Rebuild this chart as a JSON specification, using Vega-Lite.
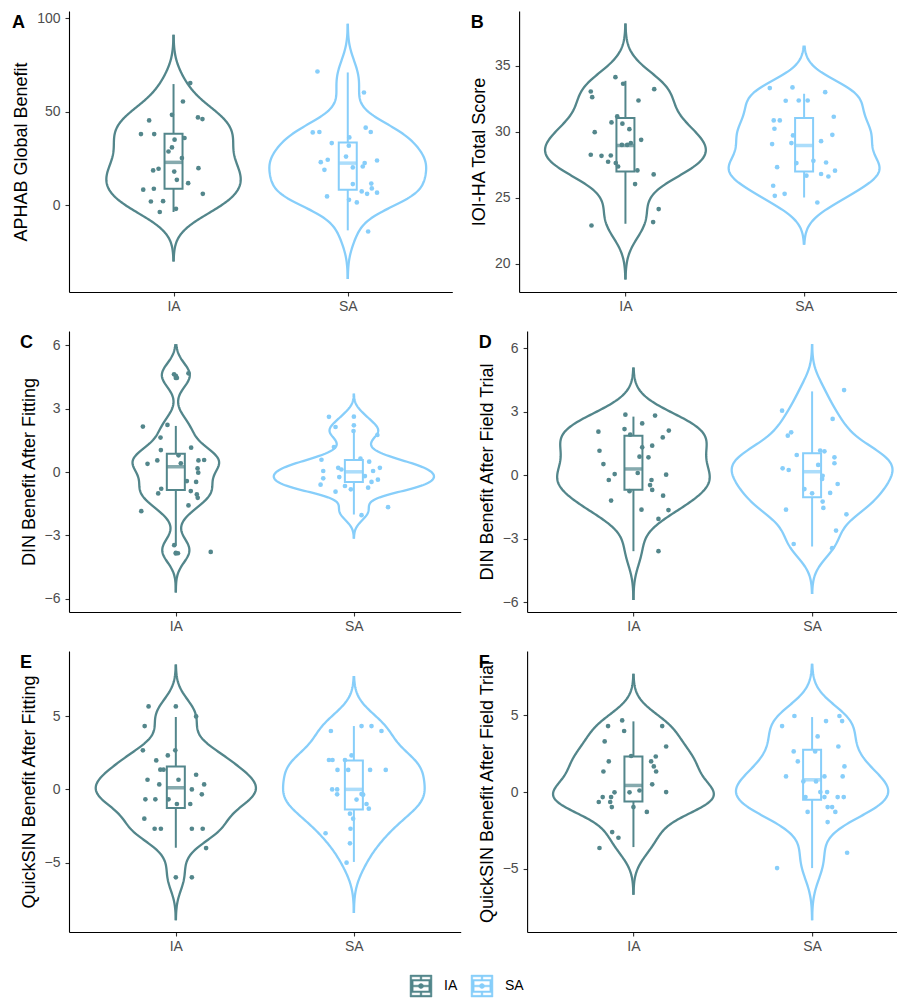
{
"$schema": "https://vega.github.io/schema/vega-lite/v6.json",
"padding": {"left": 12, "top": 11, "right": 0, "bottom": 0},
"background": "white",
"config": {
 "font": "Liberation Sans",
 "view": {"stroke": null},
 "axis": {"grid": false, "domainColor": "#000000", "domainWidth": 1.1, "tickColor": "#333333", "tickWidth": 1.1, "tickSize": 4, "labelFontSize": 14, "labelColor": "#4D4D4D", "labelPadding": 5, "titleFontSize": 18, "titleFontWeight": "normal", "titleColor": "#000000", "titlePadding": 6, "titleLimit": 1000},
 "axisX": {"labelAngle": 0, "labelPadding": 3},
 "title": {"fontSize": 18, "fontWeight": "bold", "anchor": "start", "offset": -21, "color": "#000000"},
 "legend": {"labelFontSize": 14, "labelColor": "#000000"}
},
"datasets": {
 "pA": [
  {"g":"IA","v":65.3,"j":0.096},{"g":"IA","v":55.5,"j":0.054},{"g":"IA","v":48.4,"j":-0.009},{"g":"IA","v":45.4,"j":-0.14},{"g":"IA","v":47.0,"j":0.14},{"g":"IA","v":46.1,"j":0.166},{"g":"IA","v":38.1,"j":-0.187},{"g":"IA","v":38.1,"j":-0.111},{"g":"IA","v":36.0,"j":0.063},{"g":"IA","v":35.1,"j":0.006},{"g":"IA","v":31.0,"j":-0.009},{"g":"IA","v":28.8,"j":-0.029},{"g":"IA","v":25.3,"j":0.048},{"g":"IA","v":19.9,"j":0.143},{"g":"IA","v":18.7,"j":-0.117},{"g":"IA","v":19.6,"j":-0.086},{"g":"IA","v":18.1,"j":0.004},{"g":"IA","v":13.7,"j":0.019},{"g":"IA","v":11.9,"j":0.084},{"g":"IA","v":8.4,"j":-0.174},{"g":"IA","v":8.9,"j":-0.113},{"g":"IA","v":6.2,"j":0.168},{"g":"IA","v":2.1,"j":-0.13},{"g":"IA","v":2.3,"j":-0.06},{"g":"IA","v":-3.5,"j":-0.079},{"g":"IA","v":-1.8,"j":0.014},
  {"g":"SA","v":71.5,"j":-0.174},{"g":"SA","v":60.3,"j":0.093},{"g":"SA","v":39.0,"j":-0.201},{"g":"SA","v":39.2,"j":-0.163},{"g":"SA","v":41.5,"j":0.103},{"g":"SA","v":39.2,"j":0.132},{"g":"SA","v":36.3,"j":0.009},{"g":"SA","v":33.3,"j":-0.092},{"g":"SA","v":31.9,"j":0.006},{"g":"SA","v":26.1,"j":-0.01},{"g":"SA","v":23.1,"j":-0.155},{"g":"SA","v":24.4,"j":-0.115},{"g":"SA","v":24.0,"j":0.168},{"g":"SA","v":19.0,"j":-0.134},{"g":"SA","v":20.3,"j":0.029},{"g":"SA","v":20.8,"j":0.086},{"g":"SA","v":22.6,"j":0.097},{"g":"SA","v":11.4,"j":0.029},{"g":"SA","v":11.7,"j":0.135},{"g":"SA","v":9.1,"j":0.138},{"g":"SA","v":7.5,"j":0.08},{"g":"SA","v":6.2,"j":0.111},{"g":"SA","v":6.8,"j":0.168},{"g":"SA","v":4.8,"j":-0.119},{"g":"SA","v":3.0,"j":0.007},{"g":"SA","v":1.6,"j":0.052},{"g":"SA","v":-13.9,"j":0.117}
 ],
 "bA": [{"g":"IA","lo":-3.5,"q1":8.9,"md":23.0,"q3":38.3,"hi":64.8},{"g":"SA","lo":-13.3,"q1":8.4,"md":22.6,"q3":33.6,"hi":71.0}],
 "pB": [
  {"g":"IA","v":34.14,"j":-0.056},{"g":"IA","v":33.64,"j":-0.013},{"g":"IA","v":33.05,"j":-0.194},{"g":"IA","v":32.62,"j":-0.186},{"g":"IA","v":33.23,"j":0.161},{"g":"IA","v":32.37,"j":0.073},{"g":"IA","v":31.16,"j":-0.046},{"g":"IA","v":30.71,"j":-0.078},{"g":"IA","v":30.61,"j":-0.017},{"g":"IA","v":30.2,"j":0.022},{"g":"IA","v":29.97,"j":-0.172},{"g":"IA","v":29.39,"j":0.088},{"g":"IA","v":29.14,"j":0.03},{"g":"IA","v":29.0,"j":-0.02},{"g":"IA","v":29.0,"j":0.01},{"g":"IA","v":28.26,"j":-0.194},{"g":"IA","v":28.18,"j":-0.134},{"g":"IA","v":28.2,"j":-0.082},{"g":"IA","v":27.73,"j":-0.097},{"g":"IA","v":27.63,"j":-0.054},{"g":"IA","v":27.37,"j":-0.041},{"g":"IA","v":27.07,"j":0.067},{"g":"IA","v":26.77,"j":0.158},{"g":"IA","v":26.04,"j":0.054},{"g":"IA","v":24.14,"j":0.186},{"g":"IA","v":23.16,"j":0.155},{"g":"IA","v":22.9,"j":-0.19},
  {"g":"SA","v":33.31,"j":-0.192},{"g":"SA","v":33.36,"j":-0.065},{"g":"SA","v":33.0,"j":0.118},{"g":"SA","v":32.35,"j":-0.103},{"g":"SA","v":32.37,"j":-0.03},{"g":"SA","v":32.37,"j":0.02},{"g":"SA","v":30.86,"j":-0.17},{"g":"SA","v":30.86,"j":-0.136},{"g":"SA","v":31.14,"j":0.166},{"g":"SA","v":30.23,"j":-0.166},{"g":"SA","v":29.72,"j":-0.062},{"g":"SA","v":29.77,"j":0.158},{"g":"SA","v":29.07,"j":-0.179},{"g":"SA","v":29.14,"j":-0.071},{"g":"SA","v":29.29,"j":0.095},{"g":"SA","v":27.32,"j":-0.151},{"g":"SA","v":27.63,"j":-0.043},{"g":"SA","v":27.8,"j":0.052},{"g":"SA","v":27.67,"j":0.123},{"g":"SA","v":26.67,"j":0.013},{"g":"SA","v":26.8,"j":0.095},{"g":"SA","v":26.61,"j":0.136},{"g":"SA","v":27.05,"j":0.173},{"g":"SA","v":25.91,"j":-0.173},{"g":"SA","v":25.15,"j":-0.164},{"g":"SA","v":25.3,"j":-0.109},{"g":"SA","v":24.64,"j":0.074}
 ],
 "bB": [{"g":"IA","lo":23.03,"q1":26.99,"md":28.96,"q3":31.04,"hi":33.86},{"g":"SA","lo":25.02,"q1":26.99,"md":28.96,"q3":31.04,"hi":32.88}],
 "pC": [
  {"g":"IA","v":4.67,"j":0.071},{"g":"IA","v":4.62,"j":-0.01},{"g":"IA","v":4.45,"j":0.006},{"g":"IA","v":2.15,"j":-0.185},{"g":"IA","v":2.23,"j":-0.047},{"g":"IA","v":1.63,"j":-0.086},{"g":"IA","v":1.04,"j":-0.084},{"g":"IA","v":1.15,"j":0.086},{"g":"IA","v":0.39,"j":-0.159},{"g":"IA","v":0.55,"j":-0.104},{"g":"IA","v":0.79,"j":0.015},{"g":"IA","v":0.41,"j":0.028},{"g":"IA","v":0.55,"j":0.127},{"g":"IA","v":0.57,"j":0.159},{"g":"IA","v":0.17,"j":0.122},{"g":"IA","v":-0.03,"j":0.126},{"g":"IA","v":-0.43,"j":0.062},{"g":"IA","v":-0.47,"j":0.114},{"g":"IA","v":-0.79,"j":-0.082},{"g":"IA","v":-1.01,"j":-0.099},{"g":"IA","v":-0.9,"j":0.084},{"g":"IA","v":-1.06,"j":0.118},{"g":"IA","v":-1.22,"j":0.123},{"g":"IA","v":-1.58,"j":0.071},{"g":"IA","v":-1.85,"j":-0.194},{"g":"IA","v":-3.46,"j":-0.009},{"g":"IA","v":-3.84,"j":0.012},{"g":"IA","v":-3.78,"j":0.196},
  {"g":"SA","v":2.61,"j":-0.14},{"g":"SA","v":2.13,"j":-0.103},{"g":"SA","v":1.94,"j":-0.002},{"g":"SA","v":1.75,"j":0.132},{"g":"SA","v":1.18,"j":-0.112},{"g":"SA","v":0.58,"j":-0.182},{"g":"SA","v":0.63,"j":0.037},{"g":"SA","v":0.49,"j":0.086},{"g":"SA","v":0.05,"j":-0.172},{"g":"SA","v":0.2,"j":-0.088},{"g":"SA","v":0.12,"j":-0.07},{"g":"SA","v":0.05,"j":0.108},{"g":"SA","v":0.2,"j":0.146},{"g":"SA","v":-0.24,"j":-0.082},{"g":"SA","v":-0.19,"j":0.062},{"g":"SA","v":-0.3,"j":-0.172},{"g":"SA","v":-0.36,"j":0.135},{"g":"SA","v":-0.47,"j":0.099},{"g":"SA","v":-0.6,"j":-0.187},{"g":"SA","v":-0.66,"j":-0.05},{"g":"SA","v":-0.74,"j":0.08},{"g":"SA","v":-0.82,"j":-0.017},{"g":"SA","v":-0.93,"j":-0.103},{"g":"SA","v":-1.66,"j":0.192},{"g":"SA","v":-2.04,"j":0.043}
 ],
 "bC": [{"g":"IA","lo":-3.48,"q1":-0.85,"md":0.25,"q3":0.87,"hi":2.18},{"g":"SA","lo":-2.01,"q1":-0.47,"md":0.01,"q3":0.57,"hi":1.94}],
 "oC": [{"g":"IA","v":4.55},{"g":"IA","v":4.45},{"g":"IA","v":-3.82},{"g":"IA","v":-3.85},{"g":"SA","v":2.62},{"g":"SA","v":2.21}],
 "pD": [
  {"g":"IA","v":2.86,"j":-0.045},{"g":"IA","v":2.82,"j":0.121},{"g":"IA","v":2.45,"j":0.049},{"g":"IA","v":2.18,"j":-0.05},{"g":"IA","v":2.06,"j":-0.196},{"g":"IA","v":2.11,"j":0.198},{"g":"IA","v":1.92,"j":-0.018},{"g":"IA","v":1.79,"j":0.164},{"g":"IA","v":1.4,"j":0.105},{"g":"IA","v":1.32,"j":0.049},{"g":"IA","v":1.16,"j":-0.19},{"g":"IA","v":0.88,"j":0.034},{"g":"IA","v":0.85,"j":0.084},{"g":"IA","v":0.53,"j":-0.168},{"g":"IA","v":0.06,"j":-0.105},{"g":"IA","v":0.11,"j":0.024},{"g":"IA","v":0.03,"j":0.183},{"g":"IA","v":-0.22,"j":-0.138},{"g":"IA","v":-0.22,"j":0.101},{"g":"IA","v":-0.46,"j":0.093},{"g":"IA","v":-0.69,"j":0.105},{"g":"IA","v":-0.75,"j":-0.022},{"g":"IA","v":-0.96,"j":0.166},{"g":"IA","v":-1.19,"j":-0.125},{"g":"IA","v":-1.62,"j":0.045},{"g":"IA","v":-1.64,"j":0.196},{"g":"IA","v":-2.06,"j":0.14},{"g":"IA","v":-3.58,"j":0.14},
  {"g":"SA","v":4.02,"j":0.179},{"g":"SA","v":3.05,"j":-0.168},{"g":"SA","v":2.66,"j":0.115},{"g":"SA","v":2.03,"j":-0.117},{"g":"SA","v":1.87,"j":-0.136},{"g":"SA","v":0.96,"j":-0.086},{"g":"SA","v":1.17,"j":0.045},{"g":"SA","v":1.13,"j":0.069},{"g":"SA","v":0.85,"j":0.125},{"g":"SA","v":0.57,"j":0.125},{"g":"SA","v":0.49,"j":0.034},{"g":"SA","v":0.33,"j":-0.165},{"g":"SA","v":0.25,"j":-0.131},{"g":"SA","v":-0.02,"j":0.059},{"g":"SA","v":-0.17,"j":0.056},{"g":"SA","v":-0.41,"j":0.143},{"g":"SA","v":-0.65,"j":-0.043},{"g":"SA","v":-0.85,"j":0.0},{"g":"SA","v":-0.83,"j":0.101},{"g":"SA","v":-1.24,"j":0.059},{"g":"SA","v":-1.54,"j":0.063},{"g":"SA","v":-1.62,"j":-0.146},{"g":"SA","v":-1.84,"j":0.192},{"g":"SA","v":-2.61,"j":0.134},{"g":"SA","v":-3.24,"j":-0.103},{"g":"SA","v":-3.44,"j":0.112}
 ],
 "bD": [{"g":"IA","lo":-3.58,"q1":-0.68,"md":0.3,"q3":1.87,"hi":2.77},{"g":"SA","lo":-3.36,"q1":-1.04,"md":0.17,"q3":1.04,"hi":3.96}],
 "pE": [
  {"g":"IA","v":5.67,"j":-0.153},{"g":"IA","v":4.99,"j":0.114},{"g":"IA","v":4.33,"j":-0.175},{"g":"IA","v":2.67,"j":-0.185},{"g":"IA","v":2.67,"j":-0.003},{"g":"IA","v":1.98,"j":-0.11},{"g":"IA","v":2.32,"j":-0.045},{"g":"IA","v":1.35,"j":-0.087},{"g":"IA","v":1.35,"j":-0.069},{"g":"IA","v":1.0,"j":0.114},{"g":"IA","v":0.66,"j":-0.159},{"g":"IA","v":0.66,"j":0.015},{"g":"IA","v":0.34,"j":-0.093},{"g":"IA","v":0.34,"j":0.159},{"g":"IA","v":0.0,"j":0.09},{"g":"IA","v":-0.34,"j":0.146},{"g":"IA","v":-0.68,"j":-0.171},{"g":"IA","v":-0.68,"j":-0.115},{"g":"IA","v":-0.68,"j":-0.041},{"g":"IA","v":-1.0,"j":0.006},{"g":"IA","v":-1.0,"j":0.081},{"g":"IA","v":-2.0,"j":-0.177},{"g":"IA","v":-2.69,"j":-0.119},{"g":"IA","v":-2.69,"j":-0.084},{"g":"IA","v":-2.69,"j":0.09},{"g":"IA","v":-2.69,"j":0.151},{"g":"IA","v":-4.01,"j":0.17},{"g":"IA","v":-6.01,"j":0.09},
  {"g":"SA","v":4.33,"j":0.043},{"g":"SA","v":4.33,"j":0.099},{"g":"SA","v":3.99,"j":0.155},{"g":"SA","v":3.99,"j":-0.129},{"g":"SA","v":2.32,"j":-0.013},{"g":"SA","v":2.01,"j":-0.14},{"g":"SA","v":2.01,"j":-0.12},{"g":"SA","v":2.01,"j":-0.05},{"g":"SA","v":1.33,"j":-0.092},{"g":"SA","v":1.33,"j":-0.032},{"g":"SA","v":1.33,"j":0.091},{"g":"SA","v":1.33,"j":0.179},{"g":"SA","v":0.0,"j":-0.122},{"g":"SA","v":0.0,"j":-0.094},{"g":"SA","v":-0.34,"j":-0.094},{"g":"SA","v":-0.32,"j":0.043},{"g":"SA","v":-0.36,"j":0.052},{"g":"SA","v":-0.7,"j":0.015},{"g":"SA","v":-1.0,"j":0.071},{"g":"SA","v":-1.32,"j":0.084},{"g":"SA","v":-1.66,"j":-0.022},{"g":"SA","v":-2.0,"j":-0.004},{"g":"SA","v":-2.69,"j":-0.019},{"g":"SA","v":-3.0,"j":-0.159},{"g":"SA","v":-3.69,"j":-0.022},{"g":"SA","v":-5.01,"j":-0.041}
 ],
 "bE": [{"g":"IA","lo":-3.99,"q1":-1.27,"md":0.11,"q3":1.57,"hi":4.95},{"g":"SA","lo":-4.96,"q1":-1.37,"md":0.0,"q3":1.98,"hi":4.33}],
 "oE": [{"g":"IA","v":5.67},{"g":"IA","v":-6.01}],
 "pF": [
  {"g":"IA","v":4.67,"j":-0.063},{"g":"IA","v":4.3,"j":-0.142},{"g":"IA","v":4.3,"j":0.161},{"g":"IA","v":3.98,"j":-0.052},{"g":"IA","v":3.3,"j":-0.161},{"g":"IA","v":2.97,"j":0.183},{"g":"IA","v":2.35,"j":-0.013},{"g":"IA","v":2.32,"j":0.125},{"g":"IA","v":2.0,"j":-0.138},{"g":"IA","v":2.0,"j":0.099},{"g":"IA","v":1.67,"j":0.114},{"g":"IA","v":1.34,"j":-0.168},{"g":"IA","v":1.34,"j":0.127},{"g":"IA","v":0.5,"j":0.105},{"g":"IA","v":-0.02,"j":-0.106},{"g":"IA","v":-0.02,"j":-0.022},{"g":"IA","v":0.0,"j":0.183},{"g":"IA","v":0.1,"j":0.034},{"g":"IA","v":-0.33,"j":-0.172},{"g":"IA","v":-0.33,"j":-0.125},{"g":"IA","v":-0.65,"j":-0.194},{"g":"IA","v":-0.65,"j":-0.13},{"g":"IA","v":-0.98,"j":-0.121},{"g":"IA","v":-0.98,"j":0.0},{"g":"IA","v":-1.3,"j":0.075},{"g":"IA","v":-2.61,"j":-0.119},{"g":"IA","v":-2.98,"j":-0.084},{"g":"IA","v":-3.65,"j":-0.19},
  {"g":"SA","v":4.96,"j":-0.099},{"g":"SA","v":4.96,"j":0.153},{"g":"SA","v":4.63,"j":0.168},{"g":"SA","v":4.63,"j":0.078},{"g":"SA","v":4.3,"j":-0.168},{"g":"SA","v":3.63,"j":0.031},{"g":"SA","v":2.97,"j":0.147},{"g":"SA","v":2.65,"j":-0.103},{"g":"SA","v":2.65,"j":0.017},{"g":"SA","v":2.0,"j":-0.08},{"g":"SA","v":1.67,"j":0.181},{"g":"SA","v":1.02,"j":-0.146},{"g":"SA","v":1.02,"j":0.069},{"g":"SA","v":1.02,"j":0.171},{"g":"SA","v":0.69,"j":-0.049},{"g":"SA","v":0.69,"j":0.022},{"g":"SA","v":0.0,"j":0.084},{"g":"SA","v":0.0,"j":0.046},{"g":"SA","v":-0.33,"j":0.069},{"g":"SA","v":-0.33,"j":0.143},{"g":"SA","v":-0.33,"j":0.177},{"g":"SA","v":-0.33,"j":-0.037},{"g":"SA","v":-0.98,"j":0.087},{"g":"SA","v":-0.98,"j":0.112},{"g":"SA","v":-1.3,"j":0.13},{"g":"SA","v":-1.3,"j":-0.025},{"g":"SA","v":-1.96,"j":0.087},{"g":"SA","v":-3.96,"j":0.196},{"g":"SA","v":-4.96,"j":-0.196}
 ],
 "bF": [{"g":"IA","lo":-3.59,"q1":-0.61,"md":0.43,"q3":2.32,"hi":4.61},{"g":"SA","lo":-4.96,"q1":-0.5,"md":0.8,"q3":2.76,"hi":4.89}]
},
"spacing": 18,
"vconcat": [
{"spacing": 17.1, "hconcat": [
{
 "width": 383.3, "height": 281, "title": {"text": "A"},
 "encoding": {"x": {"field": "g", "type": "nominal", "scale": {"type": "point", "domain": ["IA","SA"], "padding": 0.6}, "axis": {"title": null}}},
 "layer": [
  {"layer": [
   {"data": {"name": "pA"}, "transform": [{"filter": {"field": "g", "equal": "IA"}}, {"density": "v", "groupby": ["g"], "bandwidth": 8.7, "extent": [-29.9, 91.1], "steps": 200, "as": ["v", "d"]}], "mark": {"type": "line", "color": "#53868B", "strokeWidth": 2.3}, "encoding": {"xOffset": {"field": "d", "type": "quantitative", "scale": {"range": [0, 78.4], "zero": true, "nice": false}}, "y": {"field": "v", "type": "quantitative", "scale": {"domain": [-46.2, 103.8], "nice": false, "zero": false}, "axis": {"values": [0, 50, 100], "title": "APHAB Global Benefit", "minExtent": 33, "maxExtent": 33}}, "order": {"field": "v", "type": "quantitative"}}},
   {"data": {"name": "pA"}, "transform": [{"filter": {"field": "g", "equal": "SA"}}, {"density": "v", "groupby": ["g"], "bandwidth": 8.5, "extent": [-39.3, 97.0], "steps": 200, "as": ["v", "d"]}], "mark": {"type": "line", "color": "#87CEFA", "strokeWidth": 2.3}, "encoding": {"xOffset": {"field": "d", "type": "quantitative", "scale": {"range": [0, 78.4], "zero": true, "nice": false}}, "y": {"field": "v", "type": "quantitative", "scale": {"domain": [-46.2, 103.8], "nice": false, "zero": false}, "axis": {"values": [0, 50, 100], "title": "APHAB Global Benefit", "minExtent": 33, "maxExtent": 33}}, "order": {"field": "v", "type": "quantitative"}}}
  ]},
  {"layer": [
   {"data": {"name": "pA"}, "transform": [{"filter": {"field": "g", "equal": "IA"}}, {"density": "v", "groupby": ["g"], "bandwidth": 8.7, "extent": [-29.9, 91.1], "steps": 200, "as": ["v", "d"]}], "mark": {"type": "line", "color": "#53868B", "strokeWidth": 2.3}, "encoding": {"xOffset": {"field": "d", "type": "quantitative", "scale": {"range": [0, -78.4], "zero": true, "nice": false}}, "y": {"field": "v", "type": "quantitative", "scale": {"domain": [-46.2, 103.8], "nice": false, "zero": false}, "axis": {"values": [0, 50, 100], "title": "APHAB Global Benefit", "minExtent": 33, "maxExtent": 33}}, "order": {"field": "v", "type": "quantitative"}}},
   {"data": {"name": "pA"}, "transform": [{"filter": {"field": "g", "equal": "SA"}}, {"density": "v", "groupby": ["g"], "bandwidth": 8.5, "extent": [-39.3, 97.0], "steps": 200, "as": ["v", "d"]}], "mark": {"type": "line", "color": "#87CEFA", "strokeWidth": 2.3}, "encoding": {"xOffset": {"field": "d", "type": "quantitative", "scale": {"range": [0, -78.4], "zero": true, "nice": false}}, "y": {"field": "v", "type": "quantitative", "scale": {"domain": [-46.2, 103.8], "nice": false, "zero": false}, "axis": {"values": [0, 50, 100], "title": "APHAB Global Benefit", "minExtent": 33, "maxExtent": 33}}, "order": {"field": "v", "type": "quantitative"}}}
  ]},
  {"data": {"name": "bA"}, "mark": {"type": "rule", "strokeWidth": 2}, "encoding": {"y": {"field": "lo", "type": "quantitative", "scale": {"domain": [-46.2, 103.8], "nice": false, "zero": false}, "axis": {"values": [0, 50, 100], "title": "APHAB Global Benefit", "minExtent": 33, "maxExtent": 33}}, "y2": {"field": "q1"}, "stroke": {"field": "g", "type": "nominal", "scale": {"domain": ["IA","SA"], "range": ["#53868B","#87CEFA"]}, "legend": {"title": null, "orient": "none", "legendX": 340, "legendY": 963, "direction": "horizontal", "symbolType": "M-0.95,-0.95H0.95V0.95H-0.95Z M-0.81,-0.81V0.81H0.81V-0.81Z M-0.82,-0.57H0.82V0.57H-0.82Z M-0.68,-0.43V0.43H0.68V-0.43Z M-0.82,-0.07H0.82V0.07H-0.82Z M-0.07,-0.81H0.07V-0.57H-0.07Z M-0.07,0.57H0.07V0.81H-0.07Z M0.22,0A0.22,0.22 0 1,1 -0.22,0A0.22,0.22 0 1,1 0.22,0Z", "symbolSize": 529, "symbolStrokeWidth": 0.5, "labelOffset": 11, "columnPadding": 12}}}},
  {"data": {"name": "bA"}, "mark": {"type": "rule", "strokeWidth": 2}, "encoding": {"y": {"field": "q3", "type": "quantitative", "scale": {"domain": [-46.2, 103.8], "nice": false, "zero": false}, "axis": {"values": [0, 50, 100], "title": "APHAB Global Benefit", "minExtent": 33, "maxExtent": 33}}, "y2": {"field": "hi"}, "stroke": {"field": "g", "type": "nominal", "scale": {"domain": ["IA","SA"], "range": ["#53868B","#87CEFA"]}, "legend": {"title": null, "orient": "none", "legendX": 340, "legendY": 963, "direction": "horizontal", "symbolType": "M-0.95,-0.95H0.95V0.95H-0.95Z M-0.81,-0.81V0.81H0.81V-0.81Z M-0.82,-0.57H0.82V0.57H-0.82Z M-0.68,-0.43V0.43H0.68V-0.43Z M-0.82,-0.07H0.82V0.07H-0.82Z M-0.07,-0.81H0.07V-0.57H-0.07Z M-0.07,0.57H0.07V0.81H-0.07Z M0.22,0A0.22,0.22 0 1,1 -0.22,0A0.22,0.22 0 1,1 0.22,0Z", "symbolSize": 529, "symbolStrokeWidth": 0.5, "labelOffset": 11, "columnPadding": 12}}}},
  {"data": {"name": "bA"}, "mark": {"type": "bar", "width": 18, "filled": false, "strokeWidth": 2}, "encoding": {"y": {"field": "q1", "type": "quantitative", "scale": {"domain": [-46.2, 103.8], "nice": false, "zero": false}, "axis": {"values": [0, 50, 100], "title": "APHAB Global Benefit", "minExtent": 33, "maxExtent": 33}}, "y2": {"field": "q3"}, "stroke": {"field": "g", "type": "nominal", "scale": {"domain": ["IA","SA"], "range": ["#53868B","#87CEFA"]}, "legend": {"title": null, "orient": "none", "legendX": 340, "legendY": 963, "direction": "horizontal", "symbolType": "M-0.95,-0.95H0.95V0.95H-0.95Z M-0.81,-0.81V0.81H0.81V-0.81Z M-0.82,-0.57H0.82V0.57H-0.82Z M-0.68,-0.43V0.43H0.68V-0.43Z M-0.82,-0.07H0.82V0.07H-0.82Z M-0.07,-0.81H0.07V-0.57H-0.07Z M-0.07,0.57H0.07V0.81H-0.07Z M0.22,0A0.22,0.22 0 1,1 -0.22,0A0.22,0.22 0 1,1 0.22,0Z", "symbolSize": 529, "symbolStrokeWidth": 0.5, "labelOffset": 11, "columnPadding": 12}}}},
  {"data": {"name": "bA"}, "mark": {"type": "tick", "orient": "horizontal", "size": 18, "thickness": 3.5}, "encoding": {"y": {"field": "md", "type": "quantitative", "scale": {"domain": [-46.2, 103.8], "nice": false, "zero": false}, "axis": {"values": [0, 50, 100], "title": "APHAB Global Benefit", "minExtent": 33, "maxExtent": 33}}, "color": {"field": "g", "type": "nominal", "scale": {"domain": ["IA","SA"], "range": ["#53868B","#87CEFA"]}, "legend": null}}},
  {"data": {"name": "pA"}, "mark": {"type": "circle", "size": 22, "opacity": 1}, "encoding": {"xOffset": {"field": "j", "type": "quantitative", "scale": {"domain": [-1, 1], "range": [-174.2, 174.2]}}, "y": {"field": "v", "type": "quantitative", "scale": {"domain": [-46.2, 103.8], "nice": false, "zero": false}, "axis": {"values": [0, 50, 100], "title": "APHAB Global Benefit", "minExtent": 33, "maxExtent": 33}}, "color": {"field": "g", "type": "nominal", "scale": {"domain": ["IA","SA"], "range": ["#53868B","#87CEFA"]}, "legend": null}}}
 ],
 "resolve": {"scale": {"xOffset": "independent"}}
},
{
 "width": 379.3, "height": 281, "title": {"text": "B"},
 "encoding": {"x": {"field": "g", "type": "nominal", "scale": {"type": "point", "domain": ["IA","SA"], "padding": 0.5615, "align": 0.53}, "axis": {"title": null}}},
 "layer": [
  {"layer": [
   {"data": {"name": "pB"}, "transform": [{"filter": {"field": "g", "equal": "IA"}}, {"density": "v", "groupby": ["g"], "bandwidth": 1.36, "extent": [18.8, 38.2], "steps": 200, "as": ["v", "d"]}], "mark": {"type": "line", "color": "#53868B", "strokeWidth": 2.3}, "encoding": {"xOffset": {"field": "d", "type": "quantitative", "scale": {"range": [0, 80.4], "zero": true, "nice": false}}, "y": {"field": "v", "type": "quantitative", "scale": {"domain": [17.86, 39.15], "nice": false, "zero": false}, "axis": {"values": [20, 25, 30, 35], "title": "IOI-HA Total Score", "minExtent": 24.3, "maxExtent": 24.3}}, "order": {"field": "v", "type": "quantitative"}}},
   {"data": {"name": "pB"}, "transform": [{"filter": {"field": "g", "equal": "SA"}}, {"density": "v", "groupby": ["g"], "bandwidth": 1.15, "extent": [21.44, 36.52], "steps": 200, "as": ["v", "d"]}], "mark": {"type": "line", "color": "#87CEFA", "strokeWidth": 2.3}, "encoding": {"xOffset": {"field": "d", "type": "quantitative", "scale": {"range": [0, 80.4], "zero": true, "nice": false}}, "y": {"field": "v", "type": "quantitative", "scale": {"domain": [17.86, 39.15], "nice": false, "zero": false}, "axis": {"values": [20, 25, 30, 35], "title": "IOI-HA Total Score", "minExtent": 24.3, "maxExtent": 24.3}}, "order": {"field": "v", "type": "quantitative"}}}
  ]},
  {"layer": [
   {"data": {"name": "pB"}, "transform": [{"filter": {"field": "g", "equal": "IA"}}, {"density": "v", "groupby": ["g"], "bandwidth": 1.36, "extent": [18.8, 38.2], "steps": 200, "as": ["v", "d"]}], "mark": {"type": "line", "color": "#53868B", "strokeWidth": 2.3}, "encoding": {"xOffset": {"field": "d", "type": "quantitative", "scale": {"range": [0, -80.4], "zero": true, "nice": false}}, "y": {"field": "v", "type": "quantitative", "scale": {"domain": [17.86, 39.15], "nice": false, "zero": false}, "axis": {"values": [20, 25, 30, 35], "title": "IOI-HA Total Score", "minExtent": 24.3, "maxExtent": 24.3}}, "order": {"field": "v", "type": "quantitative"}}},
   {"data": {"name": "pB"}, "transform": [{"filter": {"field": "g", "equal": "SA"}}, {"density": "v", "groupby": ["g"], "bandwidth": 1.15, "extent": [21.44, 36.52], "steps": 200, "as": ["v", "d"]}], "mark": {"type": "line", "color": "#87CEFA", "strokeWidth": 2.3}, "encoding": {"xOffset": {"field": "d", "type": "quantitative", "scale": {"range": [0, -80.4], "zero": true, "nice": false}}, "y": {"field": "v", "type": "quantitative", "scale": {"domain": [17.86, 39.15], "nice": false, "zero": false}, "axis": {"values": [20, 25, 30, 35], "title": "IOI-HA Total Score", "minExtent": 24.3, "maxExtent": 24.3}}, "order": {"field": "v", "type": "quantitative"}}}
  ]},
  {"data": {"name": "bB"}, "mark": {"type": "rule", "strokeWidth": 2}, "encoding": {"y": {"field": "lo", "type": "quantitative", "scale": {"domain": [17.86, 39.15], "nice": false, "zero": false}, "axis": {"values": [20, 25, 30, 35], "title": "IOI-HA Total Score", "minExtent": 24.3, "maxExtent": 24.3}}, "y2": {"field": "q1"}, "stroke": {"field": "g", "type": "nominal", "scale": {"domain": ["IA","SA"], "range": ["#53868B","#87CEFA"]}, "legend": {"title": null, "orient": "none", "legendX": 340, "legendY": 963, "direction": "horizontal", "symbolType": "M-0.95,-0.95H0.95V0.95H-0.95Z M-0.81,-0.81V0.81H0.81V-0.81Z M-0.82,-0.57H0.82V0.57H-0.82Z M-0.68,-0.43V0.43H0.68V-0.43Z M-0.82,-0.07H0.82V0.07H-0.82Z M-0.07,-0.81H0.07V-0.57H-0.07Z M-0.07,0.57H0.07V0.81H-0.07Z M0.22,0A0.22,0.22 0 1,1 -0.22,0A0.22,0.22 0 1,1 0.22,0Z", "symbolSize": 529, "symbolStrokeWidth": 0.5, "labelOffset": 11, "columnPadding": 12}}}},
  {"data": {"name": "bB"}, "mark": {"type": "rule", "strokeWidth": 2}, "encoding": {"y": {"field": "q3", "type": "quantitative", "scale": {"domain": [17.86, 39.15], "nice": false, "zero": false}, "axis": {"values": [20, 25, 30, 35], "title": "IOI-HA Total Score", "minExtent": 24.3, "maxExtent": 24.3}}, "y2": {"field": "hi"}, "stroke": {"field": "g", "type": "nominal", "scale": {"domain": ["IA","SA"], "range": ["#53868B","#87CEFA"]}, "legend": {"title": null, "orient": "none", "legendX": 340, "legendY": 963, "direction": "horizontal", "symbolType": "M-0.95,-0.95H0.95V0.95H-0.95Z M-0.81,-0.81V0.81H0.81V-0.81Z M-0.82,-0.57H0.82V0.57H-0.82Z M-0.68,-0.43V0.43H0.68V-0.43Z M-0.82,-0.07H0.82V0.07H-0.82Z M-0.07,-0.81H0.07V-0.57H-0.07Z M-0.07,0.57H0.07V0.81H-0.07Z M0.22,0A0.22,0.22 0 1,1 -0.22,0A0.22,0.22 0 1,1 0.22,0Z", "symbolSize": 529, "symbolStrokeWidth": 0.5, "labelOffset": 11, "columnPadding": 12}}}},
  {"data": {"name": "bB"}, "mark": {"type": "bar", "width": 18, "filled": false, "strokeWidth": 2}, "encoding": {"y": {"field": "q1", "type": "quantitative", "scale": {"domain": [17.86, 39.15], "nice": false, "zero": false}, "axis": {"values": [20, 25, 30, 35], "title": "IOI-HA Total Score", "minExtent": 24.3, "maxExtent": 24.3}}, "y2": {"field": "q3"}, "stroke": {"field": "g", "type": "nominal", "scale": {"domain": ["IA","SA"], "range": ["#53868B","#87CEFA"]}, "legend": {"title": null, "orient": "none", "legendX": 340, "legendY": 963, "direction": "horizontal", "symbolType": "M-0.95,-0.95H0.95V0.95H-0.95Z M-0.81,-0.81V0.81H0.81V-0.81Z M-0.82,-0.57H0.82V0.57H-0.82Z M-0.68,-0.43V0.43H0.68V-0.43Z M-0.82,-0.07H0.82V0.07H-0.82Z M-0.07,-0.81H0.07V-0.57H-0.07Z M-0.07,0.57H0.07V0.81H-0.07Z M0.22,0A0.22,0.22 0 1,1 -0.22,0A0.22,0.22 0 1,1 0.22,0Z", "symbolSize": 529, "symbolStrokeWidth": 0.5, "labelOffset": 11, "columnPadding": 12}}}},
  {"data": {"name": "bB"}, "mark": {"type": "tick", "orient": "horizontal", "size": 18, "thickness": 3.5}, "encoding": {"y": {"field": "md", "type": "quantitative", "scale": {"domain": [17.86, 39.15], "nice": false, "zero": false}, "axis": {"values": [20, 25, 30, 35], "title": "IOI-HA Total Score", "minExtent": 24.3, "maxExtent": 24.3}}, "color": {"field": "g", "type": "nominal", "scale": {"domain": ["IA","SA"], "range": ["#53868B","#87CEFA"]}, "legend": null}}},
  {"data": {"name": "pB"}, "mark": {"type": "circle", "size": 22, "opacity": 1}, "encoding": {"xOffset": {"field": "j", "type": "quantitative", "scale": {"domain": [-1, 1], "range": [-178.7, 178.7]}}, "y": {"field": "v", "type": "quantitative", "scale": {"domain": [17.86, 39.15], "nice": false, "zero": false}, "axis": {"values": [20, 25, 30, 35], "title": "IOI-HA Total Score", "minExtent": 24.3, "maxExtent": 24.3}}, "color": {"field": "g", "type": "nominal", "scale": {"domain": ["IA","SA"], "range": ["#53868B","#87CEFA"]}, "legend": null}}}
 ],
 "resolve": {"scale": {"xOffset": "independent"}}
}
]},
{"spacing": 17.1, "hconcat": [
{
 "width": 391.7, "height": 281, "title": {"text": "C"},
 "encoding": {"x": {"field": "g", "type": "nominal", "scale": {"type": "point", "domain": ["IA","SA"], "padding": 0.6}, "axis": {"title": null}}},
 "layer": [
  {"layer": [
   {"data": {"name": "pC"}, "transform": [{"filter": {"field": "g", "equal": "IA"}}, {"density": "v", "groupby": ["g"], "bandwidth": 0.55, "extent": [-5.7, 6.05], "steps": 200, "as": ["v", "d"]}], "mark": {"type": "line", "color": "#53868B", "strokeWidth": 2.3}, "encoding": {"xOffset": {"field": "d", "type": "quantitative", "scale": {"range": [0, 80.1], "zero": true, "nice": false}}, "y": {"field": "v", "type": "quantitative", "scale": {"domain": [-6.62, 6.67], "nice": false, "zero": false}, "axis": {"values": [-6, -3, 0, 3, 6], "title": "DIN Benefit After Fitting", "minExtent": 25, "maxExtent": 25}}, "order": {"field": "v", "type": "quantitative"}}},
   {"data": {"name": "pC"}, "transform": [{"filter": {"field": "g", "equal": "SA"}}, {"density": "v", "groupby": ["g"], "bandwidth": 0.365, "extent": [-3.15, 3.71], "steps": 200, "as": ["v", "d"]}], "mark": {"type": "line", "color": "#87CEFA", "strokeWidth": 2.3}, "encoding": {"xOffset": {"field": "d", "type": "quantitative", "scale": {"range": [0, 80.1], "zero": true, "nice": false}}, "y": {"field": "v", "type": "quantitative", "scale": {"domain": [-6.62, 6.67], "nice": false, "zero": false}, "axis": {"values": [-6, -3, 0, 3, 6], "title": "DIN Benefit After Fitting", "minExtent": 25, "maxExtent": 25}}, "order": {"field": "v", "type": "quantitative"}}}
  ]},
  {"layer": [
   {"data": {"name": "pC"}, "transform": [{"filter": {"field": "g", "equal": "IA"}}, {"density": "v", "groupby": ["g"], "bandwidth": 0.55, "extent": [-5.7, 6.05], "steps": 200, "as": ["v", "d"]}], "mark": {"type": "line", "color": "#53868B", "strokeWidth": 2.3}, "encoding": {"xOffset": {"field": "d", "type": "quantitative", "scale": {"range": [0, -80.1], "zero": true, "nice": false}}, "y": {"field": "v", "type": "quantitative", "scale": {"domain": [-6.62, 6.67], "nice": false, "zero": false}, "axis": {"values": [-6, -3, 0, 3, 6], "title": "DIN Benefit After Fitting", "minExtent": 25, "maxExtent": 25}}, "order": {"field": "v", "type": "quantitative"}}},
   {"data": {"name": "pC"}, "transform": [{"filter": {"field": "g", "equal": "SA"}}, {"density": "v", "groupby": ["g"], "bandwidth": 0.365, "extent": [-3.15, 3.71], "steps": 200, "as": ["v", "d"]}], "mark": {"type": "line", "color": "#87CEFA", "strokeWidth": 2.3}, "encoding": {"xOffset": {"field": "d", "type": "quantitative", "scale": {"range": [0, -80.1], "zero": true, "nice": false}}, "y": {"field": "v", "type": "quantitative", "scale": {"domain": [-6.62, 6.67], "nice": false, "zero": false}, "axis": {"values": [-6, -3, 0, 3, 6], "title": "DIN Benefit After Fitting", "minExtent": 25, "maxExtent": 25}}, "order": {"field": "v", "type": "quantitative"}}}
  ]},
  {"data": {"name": "bC"}, "mark": {"type": "rule", "strokeWidth": 2}, "encoding": {"y": {"field": "lo", "type": "quantitative", "scale": {"domain": [-6.62, 6.67], "nice": false, "zero": false}, "axis": {"values": [-6, -3, 0, 3, 6], "title": "DIN Benefit After Fitting", "minExtent": 25, "maxExtent": 25}}, "y2": {"field": "q1"}, "stroke": {"field": "g", "type": "nominal", "scale": {"domain": ["IA","SA"], "range": ["#53868B","#87CEFA"]}, "legend": {"title": null, "orient": "none", "legendX": 340, "legendY": 963, "direction": "horizontal", "symbolType": "M-0.95,-0.95H0.95V0.95H-0.95Z M-0.81,-0.81V0.81H0.81V-0.81Z M-0.82,-0.57H0.82V0.57H-0.82Z M-0.68,-0.43V0.43H0.68V-0.43Z M-0.82,-0.07H0.82V0.07H-0.82Z M-0.07,-0.81H0.07V-0.57H-0.07Z M-0.07,0.57H0.07V0.81H-0.07Z M0.22,0A0.22,0.22 0 1,1 -0.22,0A0.22,0.22 0 1,1 0.22,0Z", "symbolSize": 529, "symbolStrokeWidth": 0.5, "labelOffset": 11, "columnPadding": 12}}}},
  {"data": {"name": "bC"}, "mark": {"type": "rule", "strokeWidth": 2}, "encoding": {"y": {"field": "q3", "type": "quantitative", "scale": {"domain": [-6.62, 6.67], "nice": false, "zero": false}, "axis": {"values": [-6, -3, 0, 3, 6], "title": "DIN Benefit After Fitting", "minExtent": 25, "maxExtent": 25}}, "y2": {"field": "hi"}, "stroke": {"field": "g", "type": "nominal", "scale": {"domain": ["IA","SA"], "range": ["#53868B","#87CEFA"]}, "legend": {"title": null, "orient": "none", "legendX": 340, "legendY": 963, "direction": "horizontal", "symbolType": "M-0.95,-0.95H0.95V0.95H-0.95Z M-0.81,-0.81V0.81H0.81V-0.81Z M-0.82,-0.57H0.82V0.57H-0.82Z M-0.68,-0.43V0.43H0.68V-0.43Z M-0.82,-0.07H0.82V0.07H-0.82Z M-0.07,-0.81H0.07V-0.57H-0.07Z M-0.07,0.57H0.07V0.81H-0.07Z M0.22,0A0.22,0.22 0 1,1 -0.22,0A0.22,0.22 0 1,1 0.22,0Z", "symbolSize": 529, "symbolStrokeWidth": 0.5, "labelOffset": 11, "columnPadding": 12}}}},
  {"data": {"name": "bC"}, "mark": {"type": "bar", "width": 18, "filled": false, "strokeWidth": 2}, "encoding": {"y": {"field": "q1", "type": "quantitative", "scale": {"domain": [-6.62, 6.67], "nice": false, "zero": false}, "axis": {"values": [-6, -3, 0, 3, 6], "title": "DIN Benefit After Fitting", "minExtent": 25, "maxExtent": 25}}, "y2": {"field": "q3"}, "stroke": {"field": "g", "type": "nominal", "scale": {"domain": ["IA","SA"], "range": ["#53868B","#87CEFA"]}, "legend": {"title": null, "orient": "none", "legendX": 340, "legendY": 963, "direction": "horizontal", "symbolType": "M-0.95,-0.95H0.95V0.95H-0.95Z M-0.81,-0.81V0.81H0.81V-0.81Z M-0.82,-0.57H0.82V0.57H-0.82Z M-0.68,-0.43V0.43H0.68V-0.43Z M-0.82,-0.07H0.82V0.07H-0.82Z M-0.07,-0.81H0.07V-0.57H-0.07Z M-0.07,0.57H0.07V0.81H-0.07Z M0.22,0A0.22,0.22 0 1,1 -0.22,0A0.22,0.22 0 1,1 0.22,0Z", "symbolSize": 529, "symbolStrokeWidth": 0.5, "labelOffset": 11, "columnPadding": 12}}}},
  {"data": {"name": "bC"}, "mark": {"type": "tick", "orient": "horizontal", "size": 18, "thickness": 3.5}, "encoding": {"y": {"field": "md", "type": "quantitative", "scale": {"domain": [-6.62, 6.67], "nice": false, "zero": false}, "axis": {"values": [-6, -3, 0, 3, 6], "title": "DIN Benefit After Fitting", "minExtent": 25, "maxExtent": 25}}, "color": {"field": "g", "type": "nominal", "scale": {"domain": ["IA","SA"], "range": ["#53868B","#87CEFA"]}, "legend": null}}},
  {"data": {"name": "oC"}, "mark": {"type": "circle", "size": 22, "opacity": 1}, "encoding": {"y": {"field": "v", "type": "quantitative", "scale": {"domain": [-6.62, 6.67], "nice": false, "zero": false}, "axis": {"values": [-6, -3, 0, 3, 6], "title": "DIN Benefit After Fitting", "minExtent": 25, "maxExtent": 25}}, "color": {"field": "g", "type": "nominal", "scale": {"domain": ["IA","SA"], "range": ["#53868B","#87CEFA"]}, "legend": null}}},
  {"data": {"name": "pC"}, "mark": {"type": "circle", "size": 22, "opacity": 1}, "encoding": {"xOffset": {"field": "j", "type": "quantitative", "scale": {"domain": [-1, 1], "range": [-178.05, 178.05]}}, "y": {"field": "v", "type": "quantitative", "scale": {"domain": [-6.62, 6.67], "nice": false, "zero": false}, "axis": {"values": [-6, -3, 0, 3, 6], "title": "DIN Benefit After Fitting", "minExtent": 25, "maxExtent": 25}}, "color": {"field": "g", "type": "nominal", "scale": {"domain": ["IA","SA"], "range": ["#53868B","#87CEFA"]}, "legend": null}}}
 ],
 "resolve": {"scale": {"xOffset": "independent"}}
},
{
 "width": 379.3, "height": 281, "title": {"text": "D"},
 "encoding": {"x": {"field": "g", "type": "nominal", "scale": {"type": "point", "domain": ["IA","SA"], "padding": 0.5615, "align": 0.53}, "axis": {"title": null}}},
 "layer": [
  {"layer": [
   {"data": {"name": "pD"}, "transform": [{"filter": {"field": "g", "equal": "IA"}}, {"density": "v", "groupby": ["g"], "bandwidth": 0.75, "extent": [-5.88, 5.09], "steps": 200, "as": ["v", "d"]}], "mark": {"type": "line", "color": "#53868B", "strokeWidth": 2.3}, "encoding": {"xOffset": {"field": "d", "type": "quantitative", "scale": {"range": [0, 80.4], "zero": true, "nice": false}}, "y": {"field": "v", "type": "quantitative", "scale": {"domain": [-6.45, 6.81], "nice": false, "zero": false}, "axis": {"values": [-6, -3, 0, 3, 6], "title": "DIN Benefit After Field Trial", "minExtent": 24.3, "maxExtent": 24.3}}, "order": {"field": "v", "type": "quantitative"}}},
   {"data": {"name": "pD"}, "transform": [{"filter": {"field": "g", "equal": "SA"}}, {"density": "v", "groupby": ["g"], "bandwidth": 0.72, "extent": [-5.6, 6.19], "steps": 200, "as": ["v", "d"]}], "mark": {"type": "line", "color": "#87CEFA", "strokeWidth": 2.3}, "encoding": {"xOffset": {"field": "d", "type": "quantitative", "scale": {"range": [0, 80.4], "zero": true, "nice": false}}, "y": {"field": "v", "type": "quantitative", "scale": {"domain": [-6.45, 6.81], "nice": false, "zero": false}, "axis": {"values": [-6, -3, 0, 3, 6], "title": "DIN Benefit After Field Trial", "minExtent": 24.3, "maxExtent": 24.3}}, "order": {"field": "v", "type": "quantitative"}}}
  ]},
  {"layer": [
   {"data": {"name": "pD"}, "transform": [{"filter": {"field": "g", "equal": "IA"}}, {"density": "v", "groupby": ["g"], "bandwidth": 0.75, "extent": [-5.88, 5.09], "steps": 200, "as": ["v", "d"]}], "mark": {"type": "line", "color": "#53868B", "strokeWidth": 2.3}, "encoding": {"xOffset": {"field": "d", "type": "quantitative", "scale": {"range": [0, -80.4], "zero": true, "nice": false}}, "y": {"field": "v", "type": "quantitative", "scale": {"domain": [-6.45, 6.81], "nice": false, "zero": false}, "axis": {"values": [-6, -3, 0, 3, 6], "title": "DIN Benefit After Field Trial", "minExtent": 24.3, "maxExtent": 24.3}}, "order": {"field": "v", "type": "quantitative"}}},
   {"data": {"name": "pD"}, "transform": [{"filter": {"field": "g", "equal": "SA"}}, {"density": "v", "groupby": ["g"], "bandwidth": 0.72, "extent": [-5.6, 6.19], "steps": 200, "as": ["v", "d"]}], "mark": {"type": "line", "color": "#87CEFA", "strokeWidth": 2.3}, "encoding": {"xOffset": {"field": "d", "type": "quantitative", "scale": {"range": [0, -80.4], "zero": true, "nice": false}}, "y": {"field": "v", "type": "quantitative", "scale": {"domain": [-6.45, 6.81], "nice": false, "zero": false}, "axis": {"values": [-6, -3, 0, 3, 6], "title": "DIN Benefit After Field Trial", "minExtent": 24.3, "maxExtent": 24.3}}, "order": {"field": "v", "type": "quantitative"}}}
  ]},
  {"data": {"name": "bD"}, "mark": {"type": "rule", "strokeWidth": 2}, "encoding": {"y": {"field": "lo", "type": "quantitative", "scale": {"domain": [-6.45, 6.81], "nice": false, "zero": false}, "axis": {"values": [-6, -3, 0, 3, 6], "title": "DIN Benefit After Field Trial", "minExtent": 24.3, "maxExtent": 24.3}}, "y2": {"field": "q1"}, "stroke": {"field": "g", "type": "nominal", "scale": {"domain": ["IA","SA"], "range": ["#53868B","#87CEFA"]}, "legend": {"title": null, "orient": "none", "legendX": 340, "legendY": 963, "direction": "horizontal", "symbolType": "M-0.95,-0.95H0.95V0.95H-0.95Z M-0.81,-0.81V0.81H0.81V-0.81Z M-0.82,-0.57H0.82V0.57H-0.82Z M-0.68,-0.43V0.43H0.68V-0.43Z M-0.82,-0.07H0.82V0.07H-0.82Z M-0.07,-0.81H0.07V-0.57H-0.07Z M-0.07,0.57H0.07V0.81H-0.07Z M0.22,0A0.22,0.22 0 1,1 -0.22,0A0.22,0.22 0 1,1 0.22,0Z", "symbolSize": 529, "symbolStrokeWidth": 0.5, "labelOffset": 11, "columnPadding": 12}}}},
  {"data": {"name": "bD"}, "mark": {"type": "rule", "strokeWidth": 2}, "encoding": {"y": {"field": "q3", "type": "quantitative", "scale": {"domain": [-6.45, 6.81], "nice": false, "zero": false}, "axis": {"values": [-6, -3, 0, 3, 6], "title": "DIN Benefit After Field Trial", "minExtent": 24.3, "maxExtent": 24.3}}, "y2": {"field": "hi"}, "stroke": {"field": "g", "type": "nominal", "scale": {"domain": ["IA","SA"], "range": ["#53868B","#87CEFA"]}, "legend": {"title": null, "orient": "none", "legendX": 340, "legendY": 963, "direction": "horizontal", "symbolType": "M-0.95,-0.95H0.95V0.95H-0.95Z M-0.81,-0.81V0.81H0.81V-0.81Z M-0.82,-0.57H0.82V0.57H-0.82Z M-0.68,-0.43V0.43H0.68V-0.43Z M-0.82,-0.07H0.82V0.07H-0.82Z M-0.07,-0.81H0.07V-0.57H-0.07Z M-0.07,0.57H0.07V0.81H-0.07Z M0.22,0A0.22,0.22 0 1,1 -0.22,0A0.22,0.22 0 1,1 0.22,0Z", "symbolSize": 529, "symbolStrokeWidth": 0.5, "labelOffset": 11, "columnPadding": 12}}}},
  {"data": {"name": "bD"}, "mark": {"type": "bar", "width": 18, "filled": false, "strokeWidth": 2}, "encoding": {"y": {"field": "q1", "type": "quantitative", "scale": {"domain": [-6.45, 6.81], "nice": false, "zero": false}, "axis": {"values": [-6, -3, 0, 3, 6], "title": "DIN Benefit After Field Trial", "minExtent": 24.3, "maxExtent": 24.3}}, "y2": {"field": "q3"}, "stroke": {"field": "g", "type": "nominal", "scale": {"domain": ["IA","SA"], "range": ["#53868B","#87CEFA"]}, "legend": {"title": null, "orient": "none", "legendX": 340, "legendY": 963, "direction": "horizontal", "symbolType": "M-0.95,-0.95H0.95V0.95H-0.95Z M-0.81,-0.81V0.81H0.81V-0.81Z M-0.82,-0.57H0.82V0.57H-0.82Z M-0.68,-0.43V0.43H0.68V-0.43Z M-0.82,-0.07H0.82V0.07H-0.82Z M-0.07,-0.81H0.07V-0.57H-0.07Z M-0.07,0.57H0.07V0.81H-0.07Z M0.22,0A0.22,0.22 0 1,1 -0.22,0A0.22,0.22 0 1,1 0.22,0Z", "symbolSize": 529, "symbolStrokeWidth": 0.5, "labelOffset": 11, "columnPadding": 12}}}},
  {"data": {"name": "bD"}, "mark": {"type": "tick", "orient": "horizontal", "size": 18, "thickness": 3.5}, "encoding": {"y": {"field": "md", "type": "quantitative", "scale": {"domain": [-6.45, 6.81], "nice": false, "zero": false}, "axis": {"values": [-6, -3, 0, 3, 6], "title": "DIN Benefit After Field Trial", "minExtent": 24.3, "maxExtent": 24.3}}, "color": {"field": "g", "type": "nominal", "scale": {"domain": ["IA","SA"], "range": ["#53868B","#87CEFA"]}, "legend": null}}},
  {"data": {"name": "pD"}, "mark": {"type": "circle", "size": 22, "opacity": 1}, "encoding": {"xOffset": {"field": "j", "type": "quantitative", "scale": {"domain": [-1, 1], "range": [-178.7, 178.7]}}, "y": {"field": "v", "type": "quantitative", "scale": {"domain": [-6.45, 6.81], "nice": false, "zero": false}, "axis": {"values": [-6, -3, 0, 3, 6], "title": "DIN Benefit After Field Trial", "minExtent": 24.3, "maxExtent": 24.3}}, "color": {"field": "g", "type": "nominal", "scale": {"domain": ["IA","SA"], "range": ["#53868B","#87CEFA"]}, "legend": null}}}
 ],
 "resolve": {"scale": {"xOffset": "independent"}}
}
]},
{"spacing": 17.1, "hconcat": [
{
 "width": 391.7, "height": 281, "title": {"text": "E"},
 "encoding": {"x": {"field": "g", "type": "nominal", "scale": {"type": "point", "domain": ["IA","SA"], "padding": 0.6}, "axis": {"title": null}}},
 "layer": [
  {"layer": [
   {"data": {"name": "pE"}, "transform": [{"filter": {"field": "g", "equal": "IA"}}, {"density": "v", "groupby": ["g"], "bandwidth": 0.97, "extent": [-8.95, 8.54], "steps": 200, "as": ["v", "d"]}], "mark": {"type": "line", "color": "#53868B", "strokeWidth": 2.3}, "encoding": {"xOffset": {"field": "d", "type": "quantitative", "scale": {"range": [0, 80.1], "zero": true, "nice": false}}, "y": {"field": "v", "type": "quantitative", "scale": {"domain": [-9.75, 9.46], "nice": false, "zero": false}, "axis": {"values": [-5, 0, 5], "title": "QuickSIN Benefit After Fitting", "minExtent": 25, "maxExtent": 25}}, "order": {"field": "v", "type": "quantitative"}}},
   {"data": {"name": "pE"}, "transform": [{"filter": {"field": "g", "equal": "SA"}}, {"density": "v", "groupby": ["g"], "bandwidth": 1.145, "extent": [-8.45, 7.75], "steps": 200, "as": ["v", "d"]}], "mark": {"type": "line", "color": "#87CEFA", "strokeWidth": 2.3}, "encoding": {"xOffset": {"field": "d", "type": "quantitative", "scale": {"range": [0, 80.1], "zero": true, "nice": false}}, "y": {"field": "v", "type": "quantitative", "scale": {"domain": [-9.75, 9.46], "nice": false, "zero": false}, "axis": {"values": [-5, 0, 5], "title": "QuickSIN Benefit After Fitting", "minExtent": 25, "maxExtent": 25}}, "order": {"field": "v", "type": "quantitative"}}}
  ]},
  {"layer": [
   {"data": {"name": "pE"}, "transform": [{"filter": {"field": "g", "equal": "IA"}}, {"density": "v", "groupby": ["g"], "bandwidth": 0.97, "extent": [-8.95, 8.54], "steps": 200, "as": ["v", "d"]}], "mark": {"type": "line", "color": "#53868B", "strokeWidth": 2.3}, "encoding": {"xOffset": {"field": "d", "type": "quantitative", "scale": {"range": [0, -80.1], "zero": true, "nice": false}}, "y": {"field": "v", "type": "quantitative", "scale": {"domain": [-9.75, 9.46], "nice": false, "zero": false}, "axis": {"values": [-5, 0, 5], "title": "QuickSIN Benefit After Fitting", "minExtent": 25, "maxExtent": 25}}, "order": {"field": "v", "type": "quantitative"}}},
   {"data": {"name": "pE"}, "transform": [{"filter": {"field": "g", "equal": "SA"}}, {"density": "v", "groupby": ["g"], "bandwidth": 1.145, "extent": [-8.45, 7.75], "steps": 200, "as": ["v", "d"]}], "mark": {"type": "line", "color": "#87CEFA", "strokeWidth": 2.3}, "encoding": {"xOffset": {"field": "d", "type": "quantitative", "scale": {"range": [0, -80.1], "zero": true, "nice": false}}, "y": {"field": "v", "type": "quantitative", "scale": {"domain": [-9.75, 9.46], "nice": false, "zero": false}, "axis": {"values": [-5, 0, 5], "title": "QuickSIN Benefit After Fitting", "minExtent": 25, "maxExtent": 25}}, "order": {"field": "v", "type": "quantitative"}}}
  ]},
  {"data": {"name": "bE"}, "mark": {"type": "rule", "strokeWidth": 2}, "encoding": {"y": {"field": "lo", "type": "quantitative", "scale": {"domain": [-9.75, 9.46], "nice": false, "zero": false}, "axis": {"values": [-5, 0, 5], "title": "QuickSIN Benefit After Fitting", "minExtent": 25, "maxExtent": 25}}, "y2": {"field": "q1"}, "stroke": {"field": "g", "type": "nominal", "scale": {"domain": ["IA","SA"], "range": ["#53868B","#87CEFA"]}, "legend": {"title": null, "orient": "none", "legendX": 340, "legendY": 963, "direction": "horizontal", "symbolType": "M-0.95,-0.95H0.95V0.95H-0.95Z M-0.81,-0.81V0.81H0.81V-0.81Z M-0.82,-0.57H0.82V0.57H-0.82Z M-0.68,-0.43V0.43H0.68V-0.43Z M-0.82,-0.07H0.82V0.07H-0.82Z M-0.07,-0.81H0.07V-0.57H-0.07Z M-0.07,0.57H0.07V0.81H-0.07Z M0.22,0A0.22,0.22 0 1,1 -0.22,0A0.22,0.22 0 1,1 0.22,0Z", "symbolSize": 529, "symbolStrokeWidth": 0.5, "labelOffset": 11, "columnPadding": 12}}}},
  {"data": {"name": "bE"}, "mark": {"type": "rule", "strokeWidth": 2}, "encoding": {"y": {"field": "q3", "type": "quantitative", "scale": {"domain": [-9.75, 9.46], "nice": false, "zero": false}, "axis": {"values": [-5, 0, 5], "title": "QuickSIN Benefit After Fitting", "minExtent": 25, "maxExtent": 25}}, "y2": {"field": "hi"}, "stroke": {"field": "g", "type": "nominal", "scale": {"domain": ["IA","SA"], "range": ["#53868B","#87CEFA"]}, "legend": {"title": null, "orient": "none", "legendX": 340, "legendY": 963, "direction": "horizontal", "symbolType": "M-0.95,-0.95H0.95V0.95H-0.95Z M-0.81,-0.81V0.81H0.81V-0.81Z M-0.82,-0.57H0.82V0.57H-0.82Z M-0.68,-0.43V0.43H0.68V-0.43Z M-0.82,-0.07H0.82V0.07H-0.82Z M-0.07,-0.81H0.07V-0.57H-0.07Z M-0.07,0.57H0.07V0.81H-0.07Z M0.22,0A0.22,0.22 0 1,1 -0.22,0A0.22,0.22 0 1,1 0.22,0Z", "symbolSize": 529, "symbolStrokeWidth": 0.5, "labelOffset": 11, "columnPadding": 12}}}},
  {"data": {"name": "bE"}, "mark": {"type": "bar", "width": 18, "filled": false, "strokeWidth": 2}, "encoding": {"y": {"field": "q1", "type": "quantitative", "scale": {"domain": [-9.75, 9.46], "nice": false, "zero": false}, "axis": {"values": [-5, 0, 5], "title": "QuickSIN Benefit After Fitting", "minExtent": 25, "maxExtent": 25}}, "y2": {"field": "q3"}, "stroke": {"field": "g", "type": "nominal", "scale": {"domain": ["IA","SA"], "range": ["#53868B","#87CEFA"]}, "legend": {"title": null, "orient": "none", "legendX": 340, "legendY": 963, "direction": "horizontal", "symbolType": "M-0.95,-0.95H0.95V0.95H-0.95Z M-0.81,-0.81V0.81H0.81V-0.81Z M-0.82,-0.57H0.82V0.57H-0.82Z M-0.68,-0.43V0.43H0.68V-0.43Z M-0.82,-0.07H0.82V0.07H-0.82Z M-0.07,-0.81H0.07V-0.57H-0.07Z M-0.07,0.57H0.07V0.81H-0.07Z M0.22,0A0.22,0.22 0 1,1 -0.22,0A0.22,0.22 0 1,1 0.22,0Z", "symbolSize": 529, "symbolStrokeWidth": 0.5, "labelOffset": 11, "columnPadding": 12}}}},
  {"data": {"name": "bE"}, "mark": {"type": "tick", "orient": "horizontal", "size": 18, "thickness": 3.5}, "encoding": {"y": {"field": "md", "type": "quantitative", "scale": {"domain": [-9.75, 9.46], "nice": false, "zero": false}, "axis": {"values": [-5, 0, 5], "title": "QuickSIN Benefit After Fitting", "minExtent": 25, "maxExtent": 25}}, "color": {"field": "g", "type": "nominal", "scale": {"domain": ["IA","SA"], "range": ["#53868B","#87CEFA"]}, "legend": null}}},
  {"data": {"name": "oE"}, "mark": {"type": "circle", "size": 22, "opacity": 1}, "encoding": {"y": {"field": "v", "type": "quantitative", "scale": {"domain": [-9.75, 9.46], "nice": false, "zero": false}, "axis": {"values": [-5, 0, 5], "title": "QuickSIN Benefit After Fitting", "minExtent": 25, "maxExtent": 25}}, "color": {"field": "g", "type": "nominal", "scale": {"domain": ["IA","SA"], "range": ["#53868B","#87CEFA"]}, "legend": null}}},
  {"data": {"name": "pE"}, "mark": {"type": "circle", "size": 22, "opacity": 1}, "encoding": {"xOffset": {"field": "j", "type": "quantitative", "scale": {"domain": [-1, 1], "range": [-178.05, 178.05]}}, "y": {"field": "v", "type": "quantitative", "scale": {"domain": [-9.75, 9.46], "nice": false, "zero": false}, "axis": {"values": [-5, 0, 5], "title": "QuickSIN Benefit After Fitting", "minExtent": 25, "maxExtent": 25}}, "color": {"field": "g", "type": "nominal", "scale": {"domain": ["IA","SA"], "range": ["#53868B","#87CEFA"]}, "legend": null}}}
 ],
 "resolve": {"scale": {"xOffset": "independent"}}
},
{
 "width": 379.3, "height": 281, "title": {"text": "F"},
 "encoding": {"x": {"field": "g", "type": "nominal", "scale": {"type": "point", "domain": ["IA","SA"], "padding": 0.5615, "align": 0.53}, "axis": {"title": null}}},
 "layer": [
  {"layer": [
   {"data": {"name": "pF"}, "transform": [{"filter": {"field": "g", "equal": "IA"}}, {"density": "v", "groupby": ["g"], "bandwidth": 1.02, "extent": [-6.7, 7.72], "steps": 200, "as": ["v", "d"]}], "mark": {"type": "line", "color": "#53868B", "strokeWidth": 2.3}, "encoding": {"xOffset": {"field": "d", "type": "quantitative", "scale": {"range": [0, 80.4], "zero": true, "nice": false}}, "y": {"field": "v", "type": "quantitative", "scale": {"domain": [-9.13, 9.2], "nice": false, "zero": false}, "axis": {"values": [-5, 0, 5], "title": "QuickSIN Benefit After Field Trial", "minExtent": 24.3, "maxExtent": 24.3}}, "order": {"field": "v", "type": "quantitative"}}},
   {"data": {"name": "pF"}, "transform": [{"filter": {"field": "g", "equal": "SA"}}, {"density": "v", "groupby": ["g"], "bandwidth": 1.14, "extent": [-8.37, 8.37], "steps": 200, "as": ["v", "d"]}], "mark": {"type": "line", "color": "#87CEFA", "strokeWidth": 2.3}, "encoding": {"xOffset": {"field": "d", "type": "quantitative", "scale": {"range": [0, 80.4], "zero": true, "nice": false}}, "y": {"field": "v", "type": "quantitative", "scale": {"domain": [-9.13, 9.2], "nice": false, "zero": false}, "axis": {"values": [-5, 0, 5], "title": "QuickSIN Benefit After Field Trial", "minExtent": 24.3, "maxExtent": 24.3}}, "order": {"field": "v", "type": "quantitative"}}}
  ]},
  {"layer": [
   {"data": {"name": "pF"}, "transform": [{"filter": {"field": "g", "equal": "IA"}}, {"density": "v", "groupby": ["g"], "bandwidth": 1.02, "extent": [-6.7, 7.72], "steps": 200, "as": ["v", "d"]}], "mark": {"type": "line", "color": "#53868B", "strokeWidth": 2.3}, "encoding": {"xOffset": {"field": "d", "type": "quantitative", "scale": {"range": [0, -80.4], "zero": true, "nice": false}}, "y": {"field": "v", "type": "quantitative", "scale": {"domain": [-9.13, 9.2], "nice": false, "zero": false}, "axis": {"values": [-5, 0, 5], "title": "QuickSIN Benefit After Field Trial", "minExtent": 24.3, "maxExtent": 24.3}}, "order": {"field": "v", "type": "quantitative"}}},
   {"data": {"name": "pF"}, "transform": [{"filter": {"field": "g", "equal": "SA"}}, {"density": "v", "groupby": ["g"], "bandwidth": 1.14, "extent": [-8.37, 8.37], "steps": 200, "as": ["v", "d"]}], "mark": {"type": "line", "color": "#87CEFA", "strokeWidth": 2.3}, "encoding": {"xOffset": {"field": "d", "type": "quantitative", "scale": {"range": [0, -80.4], "zero": true, "nice": false}}, "y": {"field": "v", "type": "quantitative", "scale": {"domain": [-9.13, 9.2], "nice": false, "zero": false}, "axis": {"values": [-5, 0, 5], "title": "QuickSIN Benefit After Field Trial", "minExtent": 24.3, "maxExtent": 24.3}}, "order": {"field": "v", "type": "quantitative"}}}
  ]},
  {"data": {"name": "bF"}, "mark": {"type": "rule", "strokeWidth": 2}, "encoding": {"y": {"field": "lo", "type": "quantitative", "scale": {"domain": [-9.13, 9.2], "nice": false, "zero": false}, "axis": {"values": [-5, 0, 5], "title": "QuickSIN Benefit After Field Trial", "minExtent": 24.3, "maxExtent": 24.3}}, "y2": {"field": "q1"}, "stroke": {"field": "g", "type": "nominal", "scale": {"domain": ["IA","SA"], "range": ["#53868B","#87CEFA"]}, "legend": {"title": null, "orient": "none", "legendX": 340, "legendY": 963, "direction": "horizontal", "symbolType": "M-0.95,-0.95H0.95V0.95H-0.95Z M-0.81,-0.81V0.81H0.81V-0.81Z M-0.82,-0.57H0.82V0.57H-0.82Z M-0.68,-0.43V0.43H0.68V-0.43Z M-0.82,-0.07H0.82V0.07H-0.82Z M-0.07,-0.81H0.07V-0.57H-0.07Z M-0.07,0.57H0.07V0.81H-0.07Z M0.22,0A0.22,0.22 0 1,1 -0.22,0A0.22,0.22 0 1,1 0.22,0Z", "symbolSize": 529, "symbolStrokeWidth": 0.5, "labelOffset": 11, "columnPadding": 12}}}},
  {"data": {"name": "bF"}, "mark": {"type": "rule", "strokeWidth": 2}, "encoding": {"y": {"field": "q3", "type": "quantitative", "scale": {"domain": [-9.13, 9.2], "nice": false, "zero": false}, "axis": {"values": [-5, 0, 5], "title": "QuickSIN Benefit After Field Trial", "minExtent": 24.3, "maxExtent": 24.3}}, "y2": {"field": "hi"}, "stroke": {"field": "g", "type": "nominal", "scale": {"domain": ["IA","SA"], "range": ["#53868B","#87CEFA"]}, "legend": {"title": null, "orient": "none", "legendX": 340, "legendY": 963, "direction": "horizontal", "symbolType": "M-0.95,-0.95H0.95V0.95H-0.95Z M-0.81,-0.81V0.81H0.81V-0.81Z M-0.82,-0.57H0.82V0.57H-0.82Z M-0.68,-0.43V0.43H0.68V-0.43Z M-0.82,-0.07H0.82V0.07H-0.82Z M-0.07,-0.81H0.07V-0.57H-0.07Z M-0.07,0.57H0.07V0.81H-0.07Z M0.22,0A0.22,0.22 0 1,1 -0.22,0A0.22,0.22 0 1,1 0.22,0Z", "symbolSize": 529, "symbolStrokeWidth": 0.5, "labelOffset": 11, "columnPadding": 12}}}},
  {"data": {"name": "bF"}, "mark": {"type": "bar", "width": 18, "filled": false, "strokeWidth": 2}, "encoding": {"y": {"field": "q1", "type": "quantitative", "scale": {"domain": [-9.13, 9.2], "nice": false, "zero": false}, "axis": {"values": [-5, 0, 5], "title": "QuickSIN Benefit After Field Trial", "minExtent": 24.3, "maxExtent": 24.3}}, "y2": {"field": "q3"}, "stroke": {"field": "g", "type": "nominal", "scale": {"domain": ["IA","SA"], "range": ["#53868B","#87CEFA"]}, "legend": {"title": null, "orient": "none", "legendX": 340, "legendY": 963, "direction": "horizontal", "symbolType": "M-0.95,-0.95H0.95V0.95H-0.95Z M-0.81,-0.81V0.81H0.81V-0.81Z M-0.82,-0.57H0.82V0.57H-0.82Z M-0.68,-0.43V0.43H0.68V-0.43Z M-0.82,-0.07H0.82V0.07H-0.82Z M-0.07,-0.81H0.07V-0.57H-0.07Z M-0.07,0.57H0.07V0.81H-0.07Z M0.22,0A0.22,0.22 0 1,1 -0.22,0A0.22,0.22 0 1,1 0.22,0Z", "symbolSize": 529, "symbolStrokeWidth": 0.5, "labelOffset": 11, "columnPadding": 12}}}},
  {"data": {"name": "bF"}, "mark": {"type": "tick", "orient": "horizontal", "size": 18, "thickness": 3.5}, "encoding": {"y": {"field": "md", "type": "quantitative", "scale": {"domain": [-9.13, 9.2], "nice": false, "zero": false}, "axis": {"values": [-5, 0, 5], "title": "QuickSIN Benefit After Field Trial", "minExtent": 24.3, "maxExtent": 24.3}}, "color": {"field": "g", "type": "nominal", "scale": {"domain": ["IA","SA"], "range": ["#53868B","#87CEFA"]}, "legend": null}}},
  {"data": {"name": "pF"}, "mark": {"type": "circle", "size": 22, "opacity": 1}, "encoding": {"xOffset": {"field": "j", "type": "quantitative", "scale": {"domain": [-1, 1], "range": [-178.7, 178.7]}}, "y": {"field": "v", "type": "quantitative", "scale": {"domain": [-9.13, 9.2], "nice": false, "zero": false}, "axis": {"values": [-5, 0, 5], "title": "QuickSIN Benefit After Field Trial", "minExtent": 24.3, "maxExtent": 24.3}}, "color": {"field": "g", "type": "nominal", "scale": {"domain": ["IA","SA"], "range": ["#53868B","#87CEFA"]}, "legend": null}}}
 ],
 "resolve": {"scale": {"xOffset": "independent"}}
}
]}
]
}
